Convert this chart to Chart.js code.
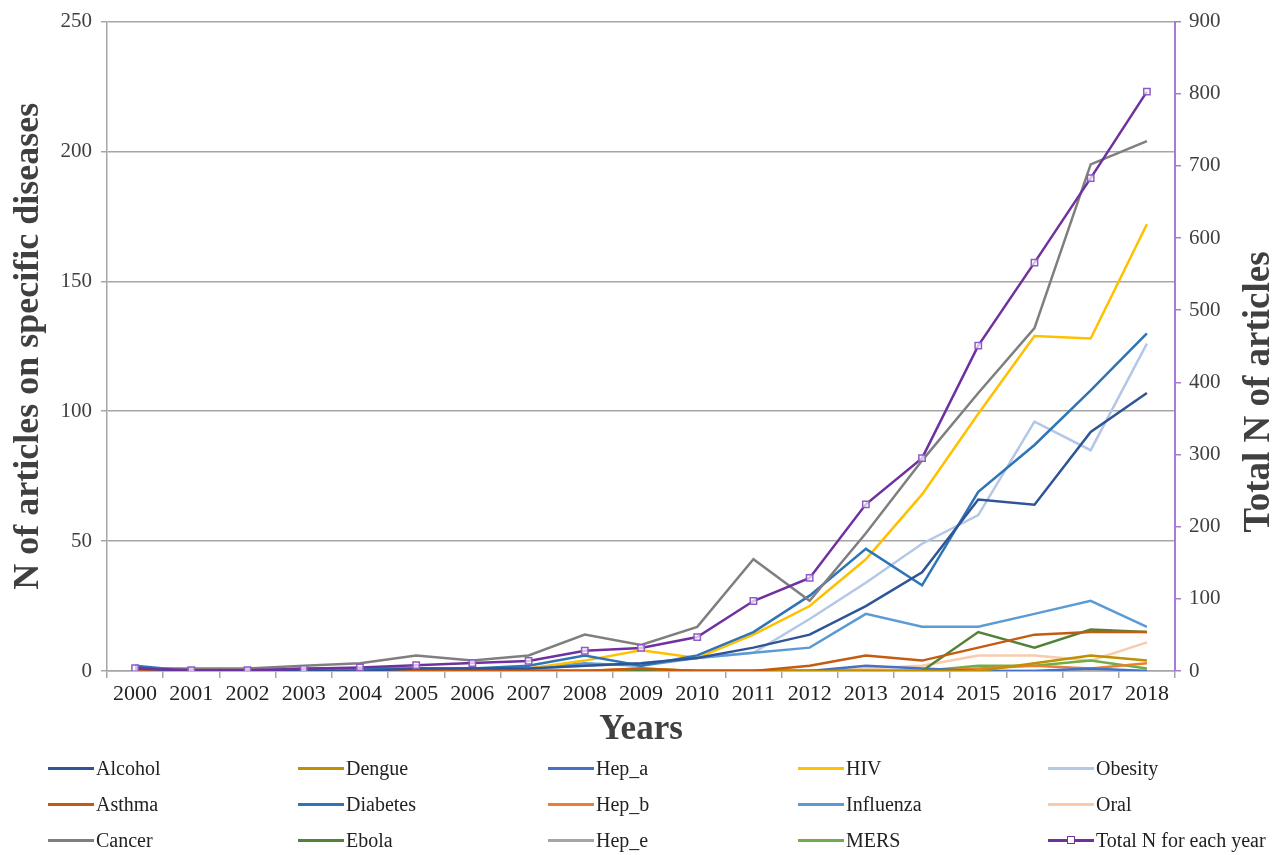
<!DOCTYPE html>
<html>
<head>
<meta charset="utf-8">
<script src="https://cdn.jsdelivr.net/npm/chart.js@4.4.1/dist/chart.umd.min.js"></script>
<style>
  html, body { margin: 0; padding: 0; background: #fff; }
  #wrap { position: relative; width: 1282px; height: 855px; }
  #legend {
    position: absolute; left: 48px; top: 750px;
    display: grid; grid-auto-flow: column;
    grid-template-rows: repeat(3, 36px);
    grid-template-columns: repeat(5, 250px);
    font-family: "Liberation Serif", "Times New Roman", serif;
    font-size: 20px; color: #222;
  }
  .item { display: flex; align-items: center; white-space: nowrap; }
  .sw { position: relative; width: 46px; height: 3px; margin-right: 2px; }
  .mk { position: absolute; left: 19px; top: -3px; width: 6px; height: 6px; border: 1.5px solid #7030A0; background: #fff; box-sizing: content-box; }
</style>
</head>
<body>
<div id="wrap">
  <canvas id="chart" width="1282" height="855"></canvas>
  <div id="legend"></div>
</div>
<script>
const years = ['2000','2001','2002','2003','2004','2005','2006','2007','2008','2009',
               '2010','2011','2012','2013','2014','2015','2016','2017','2018'];

// left axis: articles per disease
const alcohol   = [1,0,0,0,0,1,1,1,2,3,5,9,14,25,38,66,64,92,107];
const asthma    = [0,0,0,0,0,0,0,0,0,1,0,0,2,6,4,9,14,15,15];
const cancer    = [1,1,1,2,3,6,4,6,14,10,17,43,27,53,81,107,132,195,204];
const dengue    = [0,0,0,0,0,0,0,0,0,1,0,0,0,0,0,0,3,6,4];
const diabetes  = [2,0,0,1,1,1,1,2,6,2,6,15,29,47,33,69,87,108,130];
const ebola     = [0,0,0,0,0,0,0,0,0,0,0,0,0,0,0,15,9,16,15];
const hepA      = [0,0,0,0,0,0,0,0,0,0,0,0,0,2,1,0,0,1,0];
const hepB      = [0,0,0,0,0,0,0,0,0,0,0,0,0,0,0,1,2,1,3];
const hepE      = [0,0,0,0,0,0,0,0,0,0,0,0,0,0,0,0,0,0,0];
const hiv       = [0,0,0,0,0,0,1,1,4,8,5,14,25,43,68,99,129,128,172];
const influenza = [1,0,0,0,0,0,1,1,3,2,5,7,9,22,17,17,22,27,17];
const mers      = [0,0,0,0,0,0,0,0,0,0,0,0,0,0,0,2,2,4,1];
const obesity   = [0,0,0,0,0,0,0,1,2,3,5,7,20,34,49,60,96,85,126];
const oral      = [0,0,0,0,0,0,0,0,0,0,0,0,0,1,2,6,6,4,11];
// right axis: total
const totalN    = [4,1,1,3,5,8,11,14,28,32,47,97,129,231,295,451,566,683,803];

const serif = '"Liberation Serif", "Times New Roman", serif';

function line(label, data, color) {
  return { label, data, borderColor: color, backgroundColor: color, borderWidth: 2.5,
           pointRadius: 0, pointHoverRadius: 0, tension: 0, yAxisID: 'y' };
}

const datasets = [
  line('Alcohol', alcohol, '#2F5597'),
  line('Asthma', asthma, '#C55A11'),
  line('Cancer', cancer, '#7F7F7F'),
  line('Dengue', dengue, '#BF9000'),
  line('Diabetes', diabetes, '#2E75B6'),
  line('Ebola', ebola, '#548235'),
  line('Hep_a', hepA, '#4472C4'),
  line('Hep_b', hepB, '#ED7D31'),
  line('Hep_e', hepE, '#A5A5A5'),
  line('HIV', hiv, '#FFC000'),
  line('Influenza', influenza, '#5B9BD5'),
  line('MERS', mers, '#70AD47'),
  line('Obesity', obesity, '#B4C7E7'),
  line('Oral', oral, '#F8CBAD'),
  {
    label: 'Total N for each year', data: totalN, yAxisID: 'y1', order: -1,
    borderColor: '#7030A0', borderWidth: 2.5, tension: 0,
    pointStyle: 'rect', pointRadius: 4.5, pointBorderWidth: 1.5,
    pointBorderColor: '#8E5CC6', pointBackgroundColor: 'rgba(255,255,255,0.7)'
  }
];

// right-axis title reads bottom to top, like the left one
const rightTitle = {
  id: 'rightTitle',
  afterDraw(chart) {
    const ctx = chart.ctx;
    ctx.save();
    ctx.translate(1259, 392);
    ctx.rotate(-Math.PI / 2);
    ctx.font = 'bold 37px ' + serif;
    ctx.fillStyle = '#404040';
    ctx.textAlign = 'center';
    ctx.textBaseline = 'middle';
    ctx.fillText('Total N of articles', 0, 0);
    ctx.restore();
  }
};

const chart = new Chart(document.getElementById('chart'), {
  type: 'line',
  data: { labels: years, datasets },
  options: {
    responsive: false,
    animation: false,
    layout: { padding: { top: 21, bottom: 104, left: 0, right: 0 } },
    plugins: { legend: { display: false }, tooltip: { enabled: false } },
    scales: {
      x: {
        offset: true,
        afterFit: s => { s.height = 80; },
        grid: { offset: true, drawOnChartArea: false, drawTicks: true, tickLength: 7, color: '#A6A6A6', lineWidth: 1.5 },
        border: { color: '#A6A6A6', width: 1.5 },
        ticks: { color: '#222', padding: 3, maxRotation: 0, autoSkip: false, font: { family: serif, size: 22 } },
        title: { display: true, text: 'Years', color: '#404040', padding: 0, font: { family: serif, size: 35, weight: 'bold' } }
      },
      y: {
        position: 'left', min: 0, max: 250,
        afterFit: s => { s.width = 107; },
        grid: { color: '#A6A6A6', lineWidth: 1.5, drawTicks: true, tickLength: 6 },
        border: { color: '#A6A6A6', width: 1.5 },
        ticks: { stepSize: 50, color: '#404040', padding: 9, font: { family: serif, size: 21 } },
        title: { display: true, text: 'N of articles on specific diseases', color: '#404040', padding: { top: 7, bottom: 0 }, font: { family: serif, size: 36, weight: 'bold' } }
      },
      y1: {
        position: 'right', min: 0, max: 900,
        afterFit: s => { s.width = 107; },
        grid: { drawOnChartArea: false, drawTicks: true, tickLength: 6, color: '#A77BD4', lineWidth: 1.5 },
        border: { color: '#A77BD4', width: 2 },
        ticks: { stepSize: 100, color: '#404040', padding: 8, font: { family: serif, size: 21 } }
      }
    }
  },
  plugins: [rightTitle]
});

// legend laid out in columns like the original
const legend = document.getElementById('legend');
chart.data.datasets.forEach(ds => {
  const item = document.createElement('div');
  item.className = 'item';
  const sw = document.createElement('div');
  sw.className = 'sw';
  sw.style.background = ds.borderColor;
  if (ds.pointStyle === 'rect') {
    const mk = document.createElement('div');
    mk.className = 'mk';
    sw.appendChild(mk);
  }
  const txt = document.createElement('span');
  txt.textContent = ds.label;
  item.appendChild(sw);
  item.appendChild(txt);
  legend.appendChild(item);
});
</script>
</body>
</html>
